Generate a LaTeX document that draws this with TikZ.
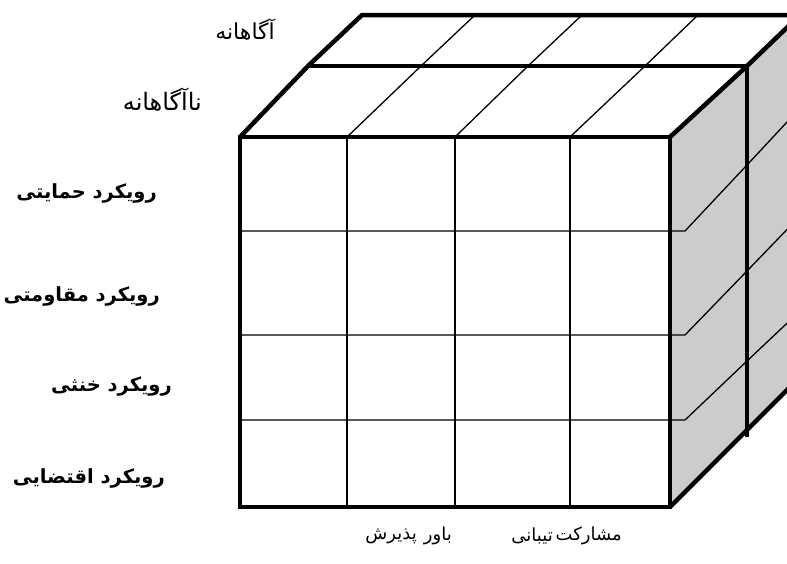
\documentclass[tikz,border=0pt]{standalone}
\usepackage{fontspec}
\newfontfamily\farsi[Script=Arabic]{DejaVu Sans}
\TeXXeTstate=1

\begin{document}
\begin{tikzpicture}[x=1pt, y=-1pt,
    outline/.style={line width=4.5pt, line join=miter},
    gridline/.style={line width=1.3pt},
    lbl/.style={font=\farsi\fontsize{22}{24}\selectfont, inner sep=0pt, anchor=east},
    collbl/.style={font=\farsi\fontsize{18}{21}\selectfont, inner sep=0pt, anchor=east},
    rowlbl/.style={font=\farsi\bfseries\fontsize{19.5}{22}\selectfont, inner sep=0pt, anchor=east}]
  \useasboundingbox (0,0) rectangle (787,563);
  \clip (0,0) rectangle (787,563);
  % side face
  \fill[black!20] (670,137) -- (747,66) -- (800,15) -- (800,377) -- (670,507) -- cycle;
  % grid on front, top and side
  \foreach \x/\m/\b in {347/421/475, 455/528/582, 570/645/698}
    {\draw[gridline] (\x,137) -- (\x,507);
     \draw[gridline] (\x,137) -- (\m,66) -- (\b,15);}
  \foreach \y/\d in {231/66, 335/64, 420/59}
    \draw[gridline] (240,\y) -- (685,\y) -- ++(62,-\d) -- ++(54,-\d+8);
  % edges
  \draw[outline] (240,137) -- (308,66) -- (362,15) -- (800,15);
  \draw[outline] (308,66) -- (747,66);
  \draw[outline] (670,137) -- (747,66) -- (800,15);
  \draw[outline] (747,66) -- (747,437);
  \draw[outline] (670,507) -- (800,377);
  \draw[outline] (240,137) rectangle (670,507);
  % labels
  \node[lbl] (aware) at (275,30) {\beginR آگاهانه\endR};
  \node[lbl, font=\farsi\fontsize{24}{26}\selectfont] (unaware) at (202,100) {\beginR ناآگاهانه\endR};
  \node[rowlbl] (support) at (157,193) {\beginR رویکرد حمایتی\endR};
  \node[rowlbl] (resist) at (160,296) {\beginR رویکرد مقاومتی\endR};
  \node[rowlbl] (neutral) at (172,386) {\beginR رویکرد خنثی\endR};
  \node[rowlbl] (conting) at (165,478) {\beginR رویکرد اقتضایی\endR};
  \foreach \n/\x/\t in {accept/417/پذیرش, belief/452/باور, back/553/تیبانی, partic/622/مشارکت}
    \node[collbl] (\n) at (\x,536) {\beginR \t\endR};
\end{tikzpicture}
\end{document}
